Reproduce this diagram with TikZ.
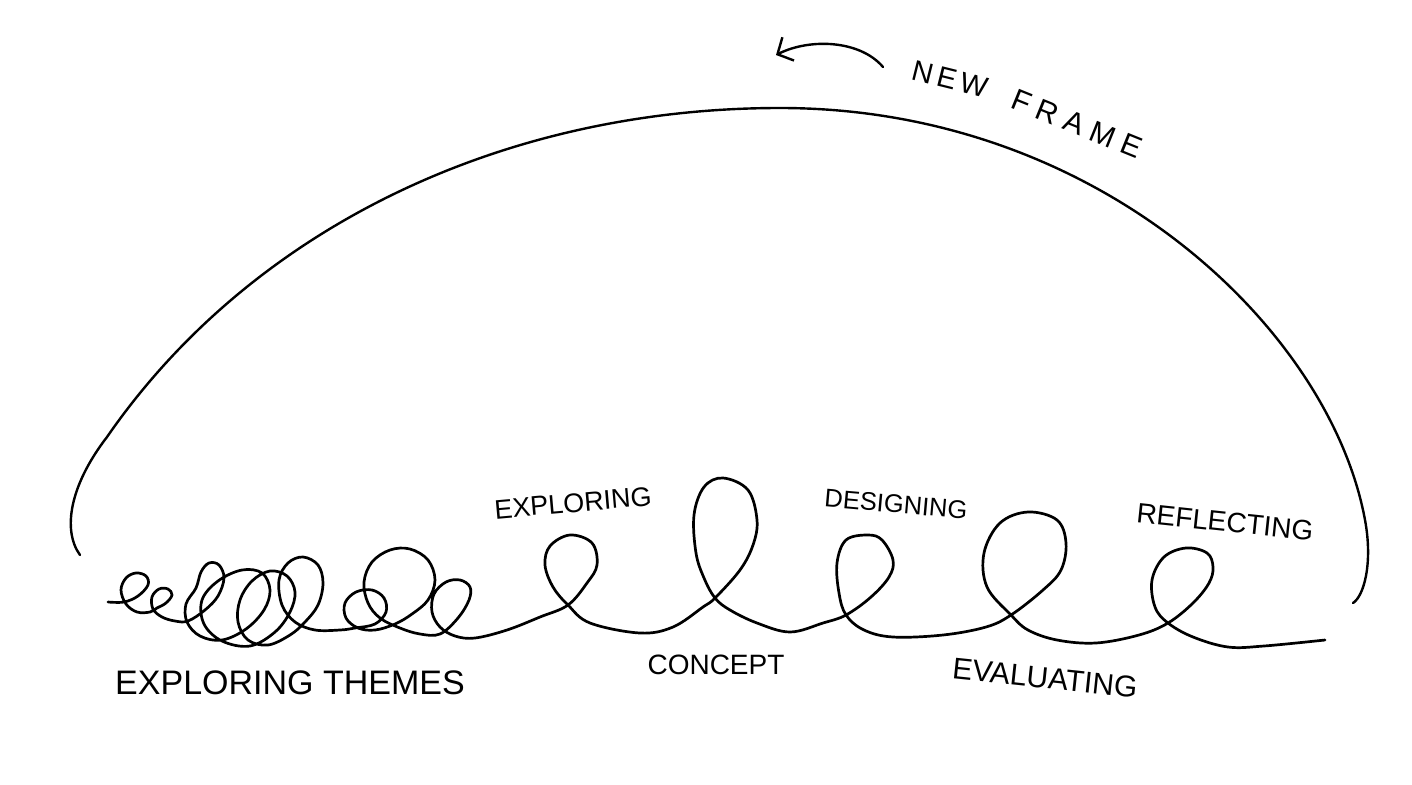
\documentclass[tikz,border=0pt]{standalone}
\usepackage{fontspec}
\setmainfont{Liberation Sans}
\usetikzlibrary{arrows.meta}
\tikzset{
  ink/.style={line width=2.7pt, line cap=round, line join=round, black},
  arcline/.style={line width=2.4pt, line cap=round, black},
  lbl/.style={inner sep=0pt, text=black},
  arr/.style={line width=2.4pt, line cap=round, -{Straight Barb[length=12pt,width=26pt,line width=2.4pt]}}
}
\newcommand{\fs}[1]{\fontsize{#1}{#1}\selectfont}
\begin{document}
\begin{tikzpicture}[x=1pt,y=-1pt]
\useasboundingbox[fill=white] (0,0) rectangle (1412,784);
% big frame arc
\coordinate (aL) at (80,555);
\coordinate (aL2) at (107,437);
\coordinate (aT) at (780,108);
\coordinate (aR2) at (1365,520);
\coordinate (aR) at (1353,603);
\draw[arcline] (aL) .. controls (62,530) and (70,485) .. (aL2)
  .. controls (250,230) and (500,108) .. (aT)
  .. controls (1100,108) and (1330,330) .. (aR2)
  .. controls (1373,563) and (1364,596) .. (aR);
% spiral
\draw[ink] plot[smooth, tension=0.6] coordinates {
 (108,602) (124,602) (138,596) (148,585) (146,576) (136,573) (126,578) (121,590) (126,604) (137,612) (150,612)
 (157,608) (166,603) (172,595) (168,589) (159,589) (152,597) (153,609) (162,617) (175,621) (188,621)
 (205,610) (218,596) (224,578) (219,565) (209,563) (201,572) (196,588) (186,604) (187,622) (200,636) (222,640)
 (246,629) (264,610) (270,590) (262,573) (242,570) (218,581) (202,600) (204,624) (222,641) (250,646)
 (275,632) (290,612) (295,592) (287,576) (270,571) (252,581) (240,600) (238,622) (248,640)
 (268,645) (290,635) (305,622) (318,605) (323,583) (318,565) (303,557) (288,563) (279,580) (282,605) (295,622) (315,630) (340,630)
 (355,628) (375,624) (386,612) (384,598) (372,590) (356,592) (345,603) (346,618) (358,628) (375,630) (395,624)
 (412,614) (428,600) (435,580) (428,560) (410,549) (390,550) (372,562) (364,582) (368,603) (380,618) (400,628) (420,634) (440,634)
 (458,618) (469,600) (470,587) (460,580) (446,582) (434,594) (432,612) (440,627) (455,636) (475,638)
 (507,630) (540,617) (568,605) (587,583) (597,565) (592,543) (570,535) (550,546) (545,565) (553,587) (568,605)
 (590,623) (640,633) (673,627) (703,607)
 (715,598) (740,570) (753,545) (757,520) (748,490) (723,478) (704,487) (694,515) (696,553) (704,578) (715,598)
 (730,610) (757,623) (790,632) (823,623)
 (846,615) (871,597) (889,577) (893,560) (882,540) (868,535) (846,540) (837,563) (839,593) (846,615)
 (864,630) (893,637) (943,635) (986,627)
 (1011,615) (1043,590) (1061,570) (1066,543) (1057,520) (1028,512) (1000,523) (984,553) (987,587) (1011,615)
 (1028,630) (1057,640) (1096,643) (1139,635)
 (1168,623) (1193,603) (1209,583) (1213,567) (1207,553) (1186,548) (1164,557) (1152,580) (1155,607) (1168,623)
 (1193,637) (1228,647) (1264,646) (1325,640)};
% arrow
\coordinate (arrS) at (883,67);
\coordinate (arrT) at (776,55);
\draw[arr] (arrS) .. controls (860,40) and (810,38) .. (arrT);
% labels
\node[lbl, font=\fs{29}, rotate=-14] (new) at (950,79) {N\,E\,W};
\node[lbl, font=\fs{30}, rotate=-22] (frame) at (1077,124) {F\;R\;A\;M\;E};
\node[lbl, font=\fs{27}, rotate=5] (exploring) at (573,503) {EXPLORING};
\node[lbl, font=\fs{25.5}, rotate=-5] (designing) at (896,504) {DESIGNING};
\node[lbl, font=\fs{28}, rotate=-6] (reflecting) at (1225,522) {REFLECTING};
\node[lbl, font=\fs{28}] (concept) at (716,665) {CONCEPT};
\node[lbl, font=\fs{30}, rotate=-6] (evaluating) at (1045,678) {EVALUATING};
\node[lbl, font=\fs{34}] (themes) at (290,683) {EXPLORING THEMES};
\end{tikzpicture}
\end{document}
